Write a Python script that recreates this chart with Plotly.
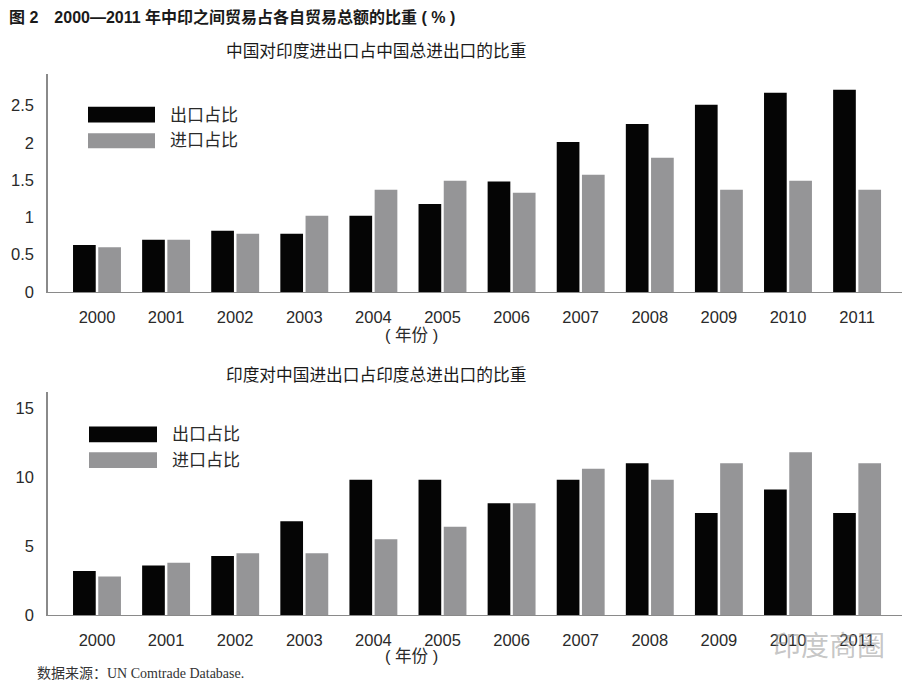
import plotly.graph_objects as go

years = ["2000", "2001", "2002", "2003", "2004", "2005",
         "2006", "2007", "2008", "2009", "2010", "2011"]

# China's trade with India as share of China's total (%)
cn_export = [0.63, 0.70, 0.82, 0.78, 1.02, 1.18, 1.48, 2.01, 2.25, 2.51, 2.67, 2.71]
cn_import = [0.60, 0.70, 0.78, 1.02, 1.37, 1.49, 1.33, 1.57, 1.80, 1.37, 1.49, 1.37]

# India's trade with China as share of India's total (%)
in_export = [3.2, 3.6, 4.3, 6.8, 9.8, 9.8, 8.1, 9.8, 11.0, 7.4, 9.1, 7.4]
in_import = [2.8, 3.8, 4.5, 4.5, 5.5, 6.4, 8.1, 10.6, 9.8, 11.0, 11.8, 11.0]

legend_names = ["出口占比", "进口占比"]
tick_top = [0, 0.5, 1, 1.5, 2, 2.5]
tick_bot = [0, 5, 10, 15]

BLACK = "#050505"
GRAY = "#959597"
AXIS = "#8a8a8a"
TXT = "#2a2a2a"
FONT = "Liberation Sans, Noto Sans CJK SC, sans-serif"

W, H = 918, 694
OFF = 8  # page body margin offset
def px(x):
    return (x - OFF) / W
def py(y):
    return 1 - (y - OFF) / H

fig = go.Figure()
fig.add_trace(go.Bar(x=years, y=cn_export, name=legend_names[0], marker_color=BLACK,
                     marker_line_width=0, xaxis="x", yaxis="y"))
fig.add_trace(go.Bar(x=years, y=cn_import, name=legend_names[1], marker_color=GRAY,
                     marker_line_width=0, xaxis="x", yaxis="y"))
fig.add_trace(go.Bar(x=years, y=in_export, name=legend_names[0], marker_color=BLACK,
                     marker_line_width=0, xaxis="x2", yaxis="y2"))
fig.add_trace(go.Bar(x=years, y=in_import, name=legend_names[1], marker_color=GRAY,
                     marker_line_width=0, xaxis="x2", yaxis="y2"))

xr = [-0.709, 11.65]
xcommon = dict(type="category", range=xr, showline=True, linecolor=AXIS, linewidth=1,
               showgrid=False, zeroline=False, ticks="", ticklabelstandoff=10,
               tickfont=dict(family=FONT, size=16.5, color=TXT), domain=[px(48), px(902)])
ycommon = dict(showline=True, linecolor=AXIS, linewidth=1.5, showgrid=False,
               zeroline=False, ticks="", ticklabelstandoff=9,
               tickfont=dict(family=FONT, size=16.5, color=TXT))

fig.update_layout(
    width=W, height=H,
    margin=dict(l=0, r=0, t=0, b=0),
    paper_bgcolor="white", plot_bgcolor="white",
    barmode="group", bargap=0.27, bargroupgap=0.1,
    showlegend=False,
    font=dict(family=FONT, color=TXT),
    xaxis=dict(**xcommon, anchor="y"),
    xaxis2=dict(**xcommon, anchor="y2"),
    yaxis=dict(**ycommon, anchor="x", domain=[py(295.7), py(75)], range=[0, 2.92],
               tickvals=tick_top, ticktext=[f"{v:g}" for v in tick_top]),
    yaxis2=dict(**ycommon, anchor="x2", domain=[py(623.3), py(397)], range=[0, 16.16],
                tickvals=tick_bot, ticktext=[str(v) for v in tick_bot]),
)

shapes = []
annotations = []

# main title and subtitles
annotations.append(dict(text="<b>图 2　2000—2011 年中印之间贸易占各自贸易总额的比重 ( % )</b>",
                        x=px(7), y=py(17), xref="paper", yref="paper",
                        xanchor="left", yanchor="middle", showarrow=False,
                        font=dict(family=FONT, size=16, color="#1a1a1a")))
annotations.append(dict(text="中国对印度进出口占中国总进出口的比重",
                        x=px(376), y=py(52), xref="paper", yref="paper",
                        xanchor="center", yanchor="middle", showarrow=False,
                        font=dict(family=FONT, size=16.7, color="#1a1a1a")))
annotations.append(dict(text="印度对中国进出口占印度总进出口的比重",
                        x=px(376), y=py(380), xref="paper", yref="paper",
                        xanchor="center", yanchor="middle", showarrow=False,
                        font=dict(family=FONT, size=16.7, color="#1a1a1a")))
# year unit labels
for yy in (339, 665):
    annotations.append(dict(text="( 年份 )", x=px(411), y=py(yy), xref="paper", yref="paper",
                            xanchor="center", yanchor="middle", showarrow=False,
                            font=dict(family=FONT, size=16.5, color=TXT)))

# custom legends (large swatches)
for (x0, x1, ys, tx, tys) in [
    (88, 155, [(108, 124), (135, 150)], 168, [117, 142]),
    (89, 157, [(432, 448), (458, 474)], 170, [440, 466]),
]:
    for (y0, y1), col, name, ty in zip(ys, [BLACK, GRAY], legend_names, tys):
        shapes.append(dict(type="rect", xref="paper", yref="paper",
                           x0=px(x0), x1=px(x1), y0=py(y1), y1=py(y0),
                           fillcolor=col, line=dict(width=0)))
        annotations.append(dict(text=name, x=px(tx), y=py(ty), xref="paper", yref="paper",
                                xanchor="left", yanchor="middle", showarrow=False,
                                font=dict(family=FONT, size=17, color=TXT)))

# source
annotations.append(dict(text="数据来源：UN Comtrade Database.",
                        x=px(35), y=py(682), xref="paper", yref="paper",
                        xanchor="left", yanchor="middle", showarrow=False,
                        font=dict(family="Liberation Serif, Noto Sans CJK SC, serif",
                                  size=14, color="#333333")))
# watermark
annotations.append(dict(text="印度商圈", x=px(829), y=py(652), xref="paper", yref="paper",
                        xanchor="center", yanchor="middle", showarrow=False,
                        font=dict(family="Noto Sans CJK SC, sans-serif", size=28,
                                  color="rgba(150,150,150,0.55)")))

fig.update_layout(shapes=shapes, annotations=annotations)

fig.write_html("out.html")
